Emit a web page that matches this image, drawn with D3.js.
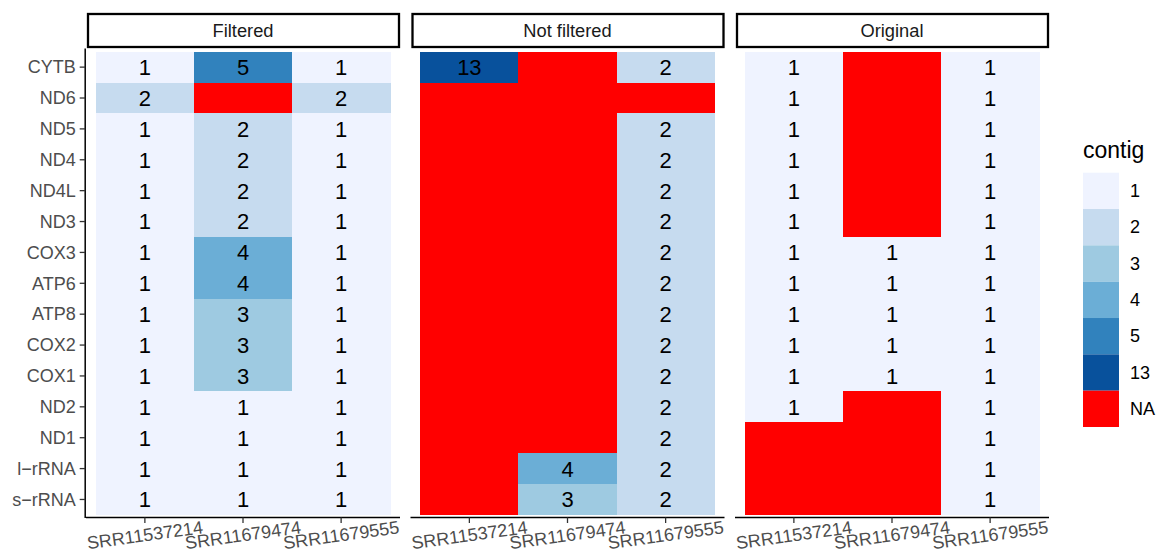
<!DOCTYPE html>
<html>
<head>
<meta charset="utf-8">
<script src="https://cdn.jsdelivr.net/npm/d3@7"></script>
<style>
  body { margin: 0; background: #fff; }
  svg { display: block; font-family: "Liberation Sans", Arial, sans-serif; }
</style>
</head>
<body>
<svg id="chart" width="1161" height="554"></svg>
<script>
// ---- data ----
const genes = ["CYTB","ND6","ND5","ND4","ND4L","ND3","COX3","ATP6","ATP8","COX2","COX1","ND2","ND1","l\u2212rRNA","s\u2212rRNA"];
const samples = ["SRR11537214","SRR11679474","SRR11679555"];
const facets = ["Filtered","Not filtered","Original"];
const N = null;
// values per facet, per sample (column), in gene order
const filtered_SRR11537214 = [1,2,1,1,1,1,1,1,1,1,1,1,1,1,1];
const filtered_SRR11679474 = [5,N,2,2,2,2,4,4,3,3,3,1,1,1,1];
const filtered_SRR11679555 = [1,2,1,1,1,1,1,1,1,1,1,1,1,1,1];
const notfiltered_SRR11537214 = [13,N,N,N,N,N,N,N,N,N,N,N,N,N,N];
const notfiltered_SRR11679474 = [N,N,N,N,N,N,N,N,N,N,N,N,N,4,3];
const notfiltered_SRR11679555 = [2,N,2,2,2,2,2,2,2,2,2,2,2,2,2];
const original_SRR11537214 = [1,1,1,1,1,1,1,1,1,1,1,1,N,N,N];
const original_SRR11679474 = [N,N,N,N,N,N,1,1,1,1,1,N,N,N,N];
const original_SRR11679555 = [1,1,1,1,1,1,1,1,1,1,1,1,1,1,1];
const legendLevels = ["1","2","3","4","5","13","NA"];
const legendColors = ["#EFF3FF","#C6DBEF","#9ECAE1","#6BAED6","#3182BD","#08519C","#FF0000"];

const facetData = [
  [filtered_SRR11537214, filtered_SRR11679474, filtered_SRR11679555],
  [notfiltered_SRR11537214, notfiltered_SRR11679474, notfiltered_SRR11679555],
  [original_SRR11537214, original_SRR11679474, original_SRR11679555]
];

const cells = [];
facets.forEach((f, fi) => {
  samples.forEach((s, si) => {
    facetData[fi][si].forEach((v, gi) => {
      cells.push({facet: f, sample: s, gene: genes[gi], value: v});
    });
  });
});

// ---- layout ----
const svg = d3.select("#chart");
const panelTop = 48.6, panelBottom = 518;
const panelLefts = [86, 410.5, 735];
const panelW = 314;
const stripTop = 14, stripBottom = 47;
const axisFont = 18;

const color = d3.scaleOrdinal().domain(legendLevels).range(legendColors);
const y = d3.scaleBand().domain(genes).range([panelTop, panelBottom]).paddingInner(0).paddingOuter(0.1);

facets.forEach((f, fi) => {
  const x0 = panelLefts[fi];
  const x = d3.scaleBand().domain(samples).range([x0, x0 + panelW]).paddingInner(0).paddingOuter(0.1);
  const g = svg.append("g");
  const data = cells.filter(c => c.facet === f);

  g.selectAll("rect.tile").data(data).join("rect")
    .attr("class","tile")
    .attr("x", d => x(d.sample))
    .attr("y", d => y(d.gene))
    .attr("width", x.bandwidth() + 0.5)
    .attr("height", y.bandwidth() + 0.5)
    .attr("shape-rendering", "crispEdges")
    .attr("fill", d => color(d.value === null ? "NA" : String(d.value)));

  g.selectAll("text.lab").data(data.filter(d => d.value !== null)).join("text")
    .attr("class","lab")
    .attr("x", d => x(d.sample) + x.bandwidth()/2)
    .attr("y", d => y(d.gene) + y.bandwidth()/2)
    .attr("dy","0.36em")
    .attr("text-anchor","middle")
    .attr("font-size", 22)
    .attr("fill","#000")
    .text(d => d.value);

  // strip
  g.append("rect")
    .attr("x", x0 + 2).attr("y", stripTop)
    .attr("width", panelW - 3).attr("height", stripBottom - stripTop)
    .attr("fill","#fff").attr("stroke","#000").attr("stroke-width", 2.3);
  g.append("text")
    .attr("x", x0 + panelW/2).attr("y", (stripTop + stripBottom)/2)
    .attr("dy","0.35em").attr("text-anchor","middle")
    .attr("font-size", 18.3).attr("fill","#1A1A1A")
    .text(f);

  // bottom axis
  const xa = g.append("g").attr("transform", `translate(0,${panelBottom - 0.5})`)
    .call(d3.axisBottom(x).tickSize(5.5).tickSizeOuter(0));
  xa.select(".domain").attr("stroke","#000").attr("stroke-width",1.5)
    .attr("d", `M${x0},0H${x0 + panelW}`);
  xa.selectAll(".tick line").attr("stroke","#333").attr("stroke-width",1.3);
  xa.selectAll(".tick text")
    .attr("font-size", axisFont).attr("fill","#4D4D4D")
    .attr("font-family", '"Liberation Sans", Arial, sans-serif')
    .attr("y", 17.5).attr("dy","0.35em")
    .attr("text-anchor","middle")
    .attr("transform","rotate(-8,0,17.5)");

  if (fi === 0) {
    const ya = g.append("g").attr("transform", `translate(${x0 - 0.8},0)`)
      .call(d3.axisLeft(y).tickSize(5.5).tickSizeOuter(0));
    ya.select(".domain").attr("stroke","#000").attr("stroke-width",1.5)
      .attr("d", `M0,${panelTop}V${panelBottom}`);
    ya.selectAll(".tick line").attr("stroke","#333").attr("stroke-width",1.3);
    ya.selectAll(".tick text")
      .attr("font-size", axisFont).attr("fill","#4D4D4D")
      .attr("font-family", '"Liberation Sans", Arial, sans-serif')
      .attr("x", -9.5).attr("dy","0.35em");
  }
});

// ---- legend ----
const lg = svg.append("g");
lg.append("text").attr("x", 1083).attr("y", 158)
  .attr("font-size", 23).attr("fill","#000").text("contig");
const ly = d3.scaleBand().domain(legendLevels).range([172.7, 427]);
lg.selectAll("rect").data(legendLevels).join("rect")
  .attr("x", 1083).attr("y", d => ly(d))
  .attr("width", 36).attr("height", ly.bandwidth())
  .attr("fill", d => color(d));
lg.selectAll("text.ll").data(legendLevels).join("text")
  .attr("class","ll")
  .attr("x", 1130).attr("y", d => ly(d) + ly.bandwidth()/2)
  .attr("dy","0.35em").attr("font-size", 18).attr("fill","#000")
  .text(d => d);
</script>
</body>
</html>
